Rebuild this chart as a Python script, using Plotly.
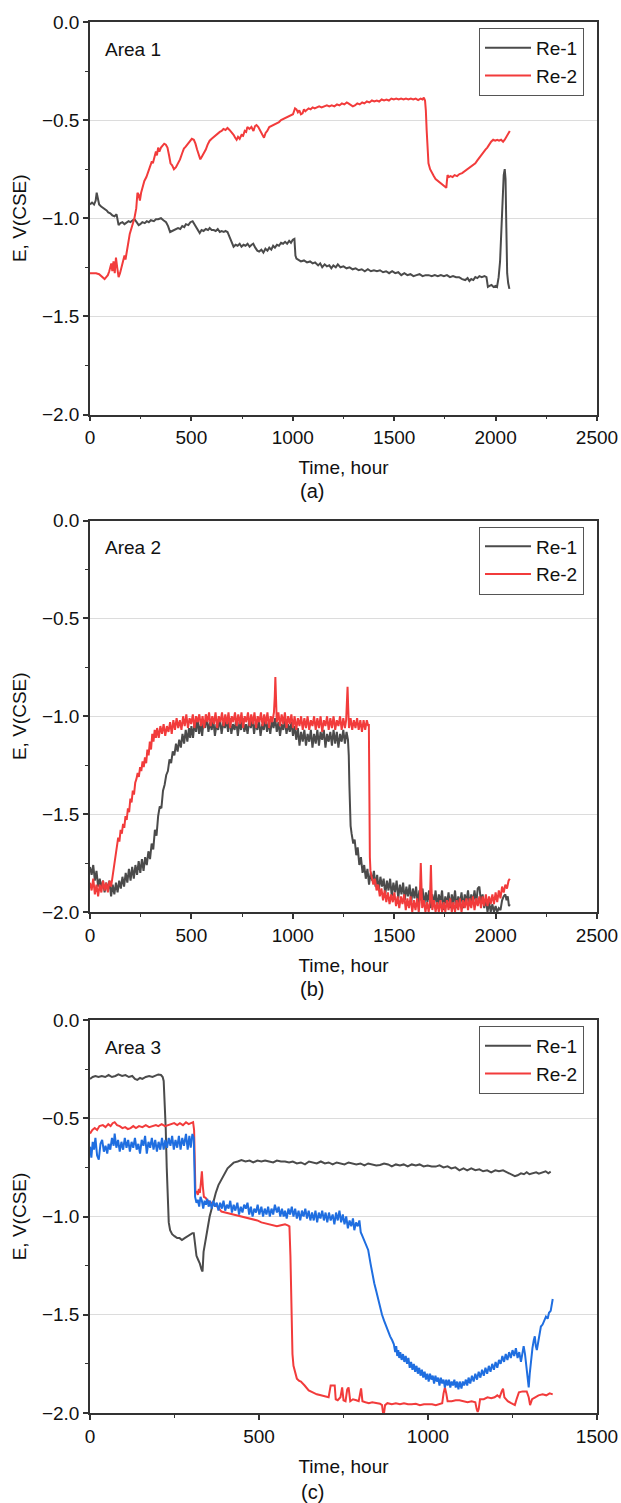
import plotly.graph_objects as go

# ---------------- data: (time [h], potential [V vs CSE]) ----------------
a_re1_pts = [(0,-0.93),(10,-0.92),(20,-0.93),(28,-0.91),(33,-0.87),(38,-0.90),(45,-0.93),(55,-0.94),(63,-0.945),(72,-0.955),(82,-0.96),(90,-0.97),(100,-0.975),(110,-0.985),(121,-0.99),(131,-0.98),(141,-1.035),(150,-1.025),(160,-1.02),(170,-1.03),(180,-1.02),(190,-1.015),(199,-1.02),(210,-1.01),(219,-1.005),(230,-1.02),(240,-1.035),(248,-1.03),(258,-1.02),(270,-1.025),(280,-1.015),(290,-1.02),(300,-1.01),(315,-1.015),(325,-1.005),(336,-1.005),(350,-1.0),(362,-1.01),(375,-1.02),(385,-1.04),(395,-1.07),(405,-1.065),(415,-1.06),(425,-1.055),(434,-1.05),(445,-1.055),(455,-1.04),(465,-1.045),(473,-1.03),(485,-1.035),(495,-1.02),(506,-1.015),(515,-1.03),(522,-1.045),(532,-1.06),(541,-1.075),(550,-1.06),(560,-1.065),(571,-1.055),(582,-1.06),(590,-1.05),(600,-1.06),(610,-1.06),(620,-1.065),(630,-1.055),(640,-1.07),(649,-1.065),(660,-1.07),(668,-1.065),(678,-1.07),(690,-1.10),(700,-1.13),(708,-1.145),(718,-1.135),(728,-1.14),(738,-1.13),(747,-1.145),(757,-1.135),(767,-1.14),(777,-1.13),(787,-1.145),(797,-1.135),(805,-1.13),(815,-1.15),(825,-1.165),(834,-1.17),(845,-1.16),(855,-1.175),(865,-1.155),(875,-1.165),(884,-1.15),(894,-1.16),(903,-1.14),(912,-1.15),(922,-1.135),(932,-1.14),(942,-1.125),(952,-1.13),(962,-1.12),(972,-1.13),(982,-1.115),(991,-1.125),(1000,-1.11),(1008,-1.105),(1013,-1.19),(1018,-1.205),(1030,-1.215),(1040,-1.22),(1055,-1.215),(1070,-1.225),(1085,-1.22),(1098,-1.23),(1110,-1.225),(1125,-1.24),(1135,-1.23),(1145,-1.25),(1157,-1.235),(1168,-1.245),(1180,-1.24),(1190,-1.255),(1200,-1.24),(1212,-1.25),(1222,-1.235),(1235,-1.25),(1250,-1.245),(1265,-1.255),(1280,-1.25),(1295,-1.26),(1310,-1.255),(1325,-1.265),(1340,-1.26),(1355,-1.27),(1370,-1.26),(1385,-1.27),(1400,-1.265),(1415,-1.27),(1430,-1.265),(1445,-1.275),(1460,-1.27),(1475,-1.28),(1490,-1.27),(1505,-1.28),(1520,-1.275),(1535,-1.29),(1550,-1.28),(1565,-1.29),(1580,-1.285),(1595,-1.295),(1610,-1.29),(1625,-1.285),(1640,-1.295),(1655,-1.29),(1670,-1.29),(1685,-1.295),(1700,-1.29),(1715,-1.295),(1730,-1.29),(1745,-1.295),(1760,-1.29),(1775,-1.3),(1790,-1.295),(1805,-1.30),(1820,-1.30),(1835,-1.31),(1850,-1.315),(1862,-1.305),(1871,-1.32),(1880,-1.31),(1890,-1.315),(1900,-1.30),(1910,-1.305),(1920,-1.295),(1932,-1.30),(1945,-1.295),(1955,-1.30),(1962,-1.35),(1970,-1.345),(1980,-1.34),(1990,-1.35),(2000,-1.345),(2007,-1.35),(2015,-1.30),(2022,-1.22),(2028,-1.05),(2034,-0.90),(2040,-0.78),(2045,-0.75),(2049,-0.80),(2053,-1.05),(2057,-1.28),(2062,-1.33),(2068,-1.36)]

a_re2_pts = [(0,-1.28),(15,-1.28),(30,-1.28),(45,-1.285),(55,-1.295),(65,-1.305),(72,-1.31),(80,-1.30),(88,-1.29),(95,-1.27),(100,-1.25),(105,-1.23),(110,-1.27),(116,-1.22),(122,-1.28),(128,-1.20),(134,-1.25),(141,-1.30),(148,-1.28),(155,-1.25),(162,-1.23),(170,-1.19),(175,-1.21),(180,-1.17),(188,-1.13),(196,-1.08),(205,-1.05),(212,-1.02),(219,-1.0),(228,-0.95),(234,-0.87),(240,-0.88),(246,-0.91),(252,-0.87),(260,-0.84),(268,-0.81),(278,-0.79),(288,-0.76),(298,-0.74),(305,-0.71),(310,-0.72),(318,-0.69),(325,-0.66),(330,-0.68),(336,-0.64),(342,-0.66),(350,-0.64),(358,-0.63),(366,-0.62),(374,-0.625),(382,-0.64),(390,-0.68),(397,-0.72),(405,-0.73),(414,-0.75),(424,-0.74),(434,-0.72),(444,-0.70),(454,-0.67),(463,-0.645),(472,-0.635),(482,-0.62),(492,-0.605),(502,-0.595),(512,-0.60),(520,-0.62),(528,-0.65),(536,-0.68),(544,-0.70),(552,-0.685),(560,-0.67),(571,-0.65),(580,-0.625),(590,-0.605),(600,-0.595),(610,-0.585),(620,-0.58),(630,-0.565),(640,-0.56),(649,-0.555),(658,-0.545),(668,-0.55),(678,-0.54),(688,-0.55),(698,-0.56),(708,-0.575),(716,-0.59),(723,-0.60),(730,-0.585),(738,-0.595),(747,-0.575),(755,-0.58),(763,-0.555),(770,-0.56),(776,-0.535),(786,-0.545),(796,-0.535),(806,-0.555),(814,-0.53),(821,-0.525),(830,-0.535),(838,-0.55),(846,-0.57),(852,-0.58),(858,-0.59),(866,-0.565),(874,-0.555),(884,-0.535),(894,-0.53),(904,-0.525),(914,-0.52),(922,-0.515),(932,-0.51),(942,-0.50),(952,-0.495),(962,-0.49),(972,-0.485),(982,-0.48),(992,-0.475),(1001,-0.47),(1006,-0.455),(1011,-0.44),(1018,-0.445),(1025,-0.46),(1032,-0.45),(1040,-0.47),(1048,-0.465),(1055,-0.445),(1062,-0.455),(1069,-0.45),(1078,-0.44),(1088,-0.445),(1098,-0.435),(1108,-0.44),(1118,-0.435),(1130,-0.43),(1142,-0.435),(1155,-0.43),(1168,-0.425),(1180,-0.43),(1192,-0.425),(1205,-0.43),(1218,-0.42),(1230,-0.425),(1242,-0.415),(1254,-0.42),(1266,-0.41),(1274,-0.415),(1284,-0.42),(1296,-0.43),(1306,-0.425),(1318,-0.415),(1330,-0.42),(1342,-0.41),(1353,-0.415),(1365,-0.405),(1378,-0.41),(1390,-0.40),(1402,-0.405),(1414,-0.40),(1426,-0.405),(1438,-0.395),(1450,-0.40),(1462,-0.395),(1474,-0.40),(1486,-0.39),(1498,-0.395),(1510,-0.39),(1522,-0.395),(1534,-0.39),(1546,-0.395),(1558,-0.39),(1570,-0.395),(1582,-0.39),(1594,-0.395),(1606,-0.39),(1618,-0.398),(1630,-0.39),(1640,-0.395),(1646,-0.385),(1652,-0.40),(1656,-0.45),(1660,-0.55),(1665,-0.65),(1669,-0.72),(1677,-0.75),(1685,-0.77),(1695,-0.785),(1704,-0.80),(1715,-0.81),(1725,-0.815),(1734,-0.825),(1745,-0.835),(1757,-0.845),(1760,-0.81),(1763,-0.78),(1770,-0.79),(1778,-0.785),(1788,-0.79),(1798,-0.78),(1810,-0.785),(1822,-0.775),(1835,-0.77),(1848,-0.76),(1860,-0.755),(1871,-0.745),(1880,-0.74),(1890,-0.73),(1900,-0.72),(1910,-0.705),(1920,-0.69),(1929,-0.68),(1940,-0.665),(1950,-0.65),(1959,-0.64),(1968,-0.625),(1978,-0.61),(1988,-0.60),(1998,-0.605),(2008,-0.60),(2017,-0.605),(2027,-0.60),(2037,-0.61),(2045,-0.60),(2052,-0.585),(2058,-0.575),(2064,-0.565),(2070,-0.555)]

b_re1_pts = [(0,-1.77),(8,-1.81),(16,-1.76),(24,-1.84),(32,-1.79),(40,-1.87),(48,-1.83),(56,-1.88),(64,-1.84),(72,-1.90),(80,-1.85),(88,-1.89),(96,-1.84),(104,-1.92),(112,-1.86),(120,-1.91),(128,-1.85),(136,-1.90),(144,-1.84),(152,-1.88),(160,-1.82),(168,-1.87),(176,-1.80),(184,-1.85),(192,-1.78),(200,-1.84),(208,-1.77),(216,-1.83),(224,-1.76),(232,-1.81),(240,-1.74),(248,-1.80),(256,-1.73),(264,-1.79),(272,-1.72),(280,-1.76),(288,-1.69),(296,-1.73),(304,-1.65),(312,-1.68),(320,-1.58),(328,-1.61),(336,-1.51),(344,-1.46),(352,-1.47),(360,-1.38),(368,-1.35),(376,-1.30),(384,-1.28),(392,-1.22),(400,-1.24),(408,-1.18),(416,-1.20),(424,-1.14),(432,-1.18),(440,-1.12),(448,-1.16),(456,-1.09),(464,-1.14),(472,-1.07),(480,-1.13),(488,-1.06),(494,-1.11),(500,-1.05),(508,-1.11),(516,-1.03),(523,-1.08),(530,-1.01),(538,-1.09),(546,-1.04),(553,-1.10),(560,-1.02),(568,-1.06),(575,-1.00),(584,-1.08),(592,-1.03),(600,-1.07),(608,-1.02),(616,-1.10),(624,-1.04),(632,-1.07),(640,-1.01),(649,-1.09),(657,-1.03),(665,-1.06),(673,-1.02),(681,-1.08),(689,-1.01),(697,-1.09),(705,-1.04),(713,-1.07),(721,-1.02),(729,-1.10),(737,-1.03),(745,-1.07),(753,-1.01),(761,-1.08),(769,-1.04),(777,-1.09),(785,-1.02),(793,-1.06),(801,-1.01),(809,-1.09),(817,-1.03),(825,-1.07),(833,-1.02),(841,-1.10),(849,-1.04),(857,-1.07),(865,-1.01),(873,-1.08),(881,-1.03),(889,-1.09),(897,-1.02),(905,-1.06),(913,-1.01),(921,-1.08),(929,-1.03),(937,-1.10),(945,-1.04),(953,-1.07),(961,-1.02),(969,-1.09),(977,-1.04),(985,-1.08),(993,-1.03),(1001,-1.10),(1009,-1.05),(1017,-1.12),(1025,-1.06),(1033,-1.15),(1041,-1.08),(1049,-1.13),(1057,-1.07),(1065,-1.15),(1073,-1.09),(1081,-1.13),(1089,-1.07),(1097,-1.16),(1105,-1.09),(1113,-1.14),(1121,-1.07),(1129,-1.15),(1137,-1.08),(1145,-1.12),(1153,-1.07),(1161,-1.16),(1169,-1.09),(1177,-1.13),(1185,-1.08),(1193,-1.15),(1201,-1.07),(1209,-1.14),(1217,-1.08),(1225,-1.16),(1233,-1.09),(1241,-1.13),(1249,-1.07),(1257,-1.14),(1265,-1.08),(1272,-1.12),(1276,-1.20),(1279,-1.35),(1282,-1.50),(1285,-1.56),(1290,-1.60),(1298,-1.65),(1305,-1.63),(1313,-1.71),(1320,-1.67),(1328,-1.76),(1336,-1.72),(1344,-1.80),(1352,-1.76),(1360,-1.83),(1368,-1.78),(1376,-1.86),(1384,-1.80),(1392,-1.84),(1400,-1.79),(1408,-1.87),(1416,-1.81),(1424,-1.89),(1432,-1.82),(1440,-1.87),(1448,-1.83),(1456,-1.91),(1464,-1.84),(1472,-1.89),(1480,-1.83),(1488,-1.92),(1496,-1.85),(1504,-1.90),(1512,-1.84),(1520,-1.93),(1528,-1.86),(1536,-1.91),(1544,-1.85),(1552,-1.94),(1560,-1.87),(1568,-1.92),(1576,-1.86),(1584,-1.95),(1592,-1.88),(1600,-1.93),(1608,-1.87),(1616,-1.96),(1624,-1.89),(1632,-1.94),(1640,-1.88),(1648,-1.97),(1656,-1.90),(1664,-1.95),(1672,-1.89),(1680,-1.98),(1688,-1.91),(1696,-1.96),(1704,-1.89),(1712,-1.98),(1720,-1.91),(1728,-1.95),(1736,-1.89),(1744,-1.99),(1752,-1.92),(1760,-1.96),(1768,-1.90),(1776,-1.98),(1784,-1.91),(1792,-1.96),(1800,-1.89),(1808,-1.98),(1816,-1.92),(1824,-1.96),(1832,-1.90),(1840,-1.98),(1848,-1.91),(1856,-1.95),(1864,-1.89),(1872,-1.97),(1880,-1.91),(1888,-1.95),(1896,-1.89),(1904,-1.96),(1912,-1.88),(1920,-1.87),(1928,-1.95),(1936,-1.91),(1944,-1.98),(1952,-1.93),(1960,-2.00),(1968,-1.95),(1976,-2.00),(1984,-1.96),(1992,-2.00),(2000,-1.97),(2008,-2.00),(2016,-1.98),(2024,-1.99),(2032,-1.94),(2040,-1.92),(2048,-1.91),(2054,-1.94),(2060,-1.92),(2066,-1.97),(2070,-1.96)]

b_re2_pts = [(0,-1.85),(8,-1.89),(16,-1.83),(24,-1.91),(32,-1.86),(40,-1.92),(48,-1.86),(56,-1.90),(64,-1.84),(72,-1.89),(80,-1.85),(88,-1.90),(96,-1.84),(104,-1.87),(111,-1.82),(116,-1.78),(121,-1.74),(127,-1.70),(133,-1.67),(139,-1.62),(145,-1.64),(151,-1.58),(157,-1.60),(163,-1.55),(169,-1.57),(175,-1.51),(181,-1.53),(187,-1.47),(193,-1.49),(199,-1.42),(205,-1.44),(211,-1.38),(217,-1.40),(223,-1.34),(229,-1.32),(235,-1.29),(241,-1.31),(247,-1.26),(253,-1.28),(259,-1.23),(265,-1.26),(271,-1.21),(277,-1.24),(283,-1.17),(289,-1.20),(295,-1.13),(301,-1.17),(307,-1.09),(313,-1.13),(319,-1.07),(325,-1.11),(331,-1.06),(339,-1.11),(347,-1.05),(355,-1.09),(363,-1.04),(371,-1.10),(379,-1.05),(387,-1.08),(395,-1.03),(403,-1.09),(411,-1.02),(419,-1.07),(427,-1.01),(435,-1.06),(443,-1.02),(451,-1.07),(459,-1.00),(467,-1.05),(475,-0.99),(483,-1.06),(491,-1.01),(499,-1.04),(507,-0.99),(515,-1.06),(523,-1.00),(531,-1.03),(539,-0.99),(547,-1.05),(555,-1.00),(563,-1.06),(571,-0.99),(579,-1.03),(587,-0.98),(595,-1.05),(603,-1.00),(611,-1.04),(619,-0.98),(627,-1.06),(635,-1.00),(643,-1.03),(651,-0.98),(659,-1.05),(667,-0.99),(675,-1.04),(683,-0.98),(691,-1.06),(699,-1.00),(707,-1.03),(715,-0.98),(723,-1.05),(731,-0.99),(739,-1.04),(747,-0.98),(755,-1.06),(763,-1.00),(771,-1.03),(779,-0.98),(787,-1.05),(795,-0.99),(803,-1.04),(811,-0.98),(819,-1.06),(827,-1.00),(835,-1.03),(843,-0.98),(851,-1.05),(859,-0.99),(867,-1.04),(875,-0.98),(883,-1.06),(891,-1.00),(899,-1.03),(907,-0.98),(911,-0.90),(914,-0.80),(917,-0.90),(921,-1.03),(929,-0.98),(937,-1.05),(945,-0.99),(953,-1.04),(961,-0.98),(969,-1.06),(977,-1.00),(985,-1.04),(993,-0.99),(1001,-1.06),(1009,-1.00),(1017,-1.07),(1025,-1.01),(1033,-1.05),(1041,-1.00),(1049,-1.07),(1057,-1.01),(1065,-1.06),(1073,-1.00),(1081,-1.07),(1089,-1.02),(1097,-1.05),(1105,-1.00),(1113,-1.07),(1121,-1.01),(1129,-1.06),(1137,-1.00),(1145,-1.08),(1153,-1.02),(1161,-1.05),(1169,-1.00),(1177,-1.07),(1185,-1.01),(1193,-1.06),(1201,-1.00),(1209,-1.07),(1217,-1.02),(1225,-1.05),(1233,-1.00),(1241,-1.07),(1249,-1.01),(1257,-1.06),(1263,-1.02),(1267,-0.95),(1270,-0.85),(1273,-0.95),(1277,-1.06),(1285,-1.01),(1293,-1.07),(1301,-1.02),(1309,-1.06),(1317,-1.01),(1325,-1.07),(1333,-1.02),(1341,-1.08),(1349,-1.02),(1357,-1.07),(1365,-1.02),(1372,-1.05),(1375,-1.04),(1377,-1.40),(1380,-1.72),(1383,-1.79),(1389,-1.82),(1397,-1.86),(1405,-1.83),(1413,-1.89),(1421,-1.86),(1429,-1.92),(1437,-1.88),(1445,-1.94),(1453,-1.89),(1461,-1.95),(1469,-1.90),(1477,-1.96),(1485,-1.91),(1493,-1.95),(1501,-1.90),(1509,-1.97),(1517,-1.92),(1525,-1.98),(1533,-1.92),(1541,-1.96),(1549,-1.91),(1557,-1.99),(1565,-1.93),(1573,-1.98),(1581,-1.92),(1589,-2.00),(1597,-1.94),(1605,-1.99),(1613,-1.93),(1621,-2.00),(1626,-1.95),(1628,-1.85),(1631,-1.75),(1634,-1.85),(1638,-1.98),(1646,-1.94),(1654,-2.00),(1662,-1.95),(1670,-2.00),(1676,-1.95),(1678,-1.88),(1681,-1.76),(1684,-1.88),(1688,-1.99),(1696,-1.94),(1704,-2.00),(1712,-1.95),(1720,-2.00),(1728,-1.94),(1736,-2.00),(1744,-1.95),(1752,-2.00),(1760,-1.94),(1768,-1.99),(1776,-1.93),(1784,-2.00),(1792,-1.95),(1800,-2.00),(1808,-1.94),(1816,-1.99),(1824,-1.93),(1832,-2.00),(1840,-1.94),(1848,-1.98),(1856,-1.93),(1864,-1.99),(1872,-1.93),(1880,-1.98),(1888,-1.92),(1896,-1.99),(1904,-1.93),(1912,-1.97),(1920,-1.92),(1928,-1.98),(1936,-1.92),(1944,-1.97),(1952,-1.91),(1960,-1.97),(1968,-1.92),(1976,-1.96),(1984,-1.91),(1992,-1.96),(2000,-1.90),(2008,-1.95),(2016,-1.89),(2024,-1.93),(2032,-1.87),(2040,-1.90),(2048,-1.86),(2056,-1.88),(2064,-1.84),(2070,-1.83)]

c_re1_pts = [(0,-0.30),(8,-0.29),(16,-0.285),(25,-0.29),(35,-0.285),(45,-0.29),(55,-0.28),(65,-0.29),(75,-0.285),(84,-0.277),(95,-0.285),(105,-0.28),(115,-0.29),(125,-0.285),(133,-0.30),(140,-0.305),(148,-0.295),(155,-0.30),(165,-0.29),(175,-0.285),(185,-0.29),(195,-0.28),(202,-0.277),(210,-0.28),(215,-0.29),(218,-0.31),(221,-0.40),(224,-0.55),(227,-0.75),(230,-0.95),(233,-1.03),(237,-1.07),(243,-1.09),(250,-1.10),(258,-1.11),(265,-1.11),(272,-1.12),(280,-1.11),(288,-1.10),(296,-1.09),(303,-1.085),(307,-1.085),(311,-1.13),(315,-1.20),(320,-1.22),(325,-1.24),(330,-1.27),(333,-1.28),(336,-1.18),(340,-1.13),(346,-1.08),(354,-1.00),(362,-0.94),(372,-0.88),(380,-0.84),(389,-0.81),(398,-0.78),(407,-0.755),(416,-0.74),(425,-0.726),(437,-0.72),(448,-0.713),(460,-0.72),(472,-0.715),(483,-0.725),(495,-0.715),(507,-0.72),(518,-0.715),(530,-0.72),(542,-0.725),(553,-0.715),(565,-0.72),(577,-0.72),(589,-0.725),(600,-0.72),(612,-0.73),(624,-0.725),(636,-0.735),(648,-0.72),(660,-0.725),(671,-0.73),(683,-0.72),(695,-0.73),(706,-0.725),(718,-0.735),(730,-0.725),(741,-0.73),(753,-0.735),(765,-0.725),(777,-0.73),(788,-0.735),(800,-0.73),(812,-0.74),(823,-0.73),(835,-0.735),(847,-0.74),(858,-0.738),(870,-0.73),(882,-0.735),(893,-0.745),(905,-0.735),(917,-0.74),(928,-0.735),(940,-0.745),(952,-0.735),(964,-0.74),(975,-0.735),(987,-0.745),(999,-0.74),(1011,-0.745),(1023,-0.746),(1034,-0.74),(1046,-0.75),(1058,-0.745),(1069,-0.755),(1081,-0.75),(1093,-0.765),(1105,-0.755),(1116,-0.765),(1128,-0.755),(1140,-0.764),(1152,-0.76),(1163,-0.77),(1175,-0.765),(1187,-0.775),(1199,-0.765),(1210,-0.77),(1222,-0.765),(1234,-0.775),(1245,-0.785),(1257,-0.795),(1265,-0.79),(1275,-0.78),(1284,-0.785),(1292,-0.775),(1300,-0.785),(1310,-0.78),(1320,-0.775),(1328,-0.782),(1338,-0.775),(1348,-0.77),(1356,-0.78),(1363,-0.772)]

c_re2_pts = [(0,-0.578),(7,-0.56),(14,-0.55),(21,-0.56),(28,-0.54),(38,-0.535),(46,-0.545),(54,-0.53),(61,-0.54),(67,-0.525),(73,-0.52),(80,-0.535),(88,-0.54),(96,-0.55),(104,-0.545),(112,-0.555),(120,-0.55),(128,-0.54),(136,-0.55),(145,-0.54),(155,-0.545),(165,-0.535),(175,-0.545),(185,-0.54),(195,-0.535),(202,-0.54),(212,-0.53),(222,-0.54),(232,-0.535),(240,-0.53),(249,-0.525),(258,-0.535),(266,-0.525),(275,-0.535),(284,-0.52),(292,-0.53),(300,-0.525),(305,-0.52),(308,-0.56),(310,-0.75),(312,-0.88),(315,-0.87),(319,-0.89),(322,-0.86),(325,-0.88),(328,-0.83),(331,-0.77),(334,-0.85),(337,-0.90),(342,-0.905),(348,-0.92),(355,-0.925),(366,-0.94),(377,-0.95),(389,-0.975),(400,-0.98),(412,-0.985),(424,-0.99),(436,-0.997),(448,-1.0),(460,-1.005),(472,-1.01),(483,-1.017),(495,-1.02),(507,-1.03),(518,-1.035),(530,-1.04),(541,-1.045),(553,-1.05),(565,-1.045),(577,-1.04),(585,-1.045),(590,-1.05),(593,-1.2),(595,-1.45),(597,-1.60),(599,-1.70),(602,-1.76),(607,-1.80),(612,-1.825),(618,-1.835),(624,-1.84),(635,-1.86),(647,-1.885),(659,-1.895),(671,-1.905),(683,-1.91),(695,-1.915),(706,-1.92),(710,-1.88),(712,-1.86),(718,-1.86),(724,-1.86),(727,-1.93),(733,-1.935),(741,-1.92),(746,-1.87),(750,-1.935),(756,-1.94),(761,-1.88),(765,-1.87),(770,-1.94),(778,-1.93),(788,-1.935),(795,-1.94),(802,-1.875),(806,-1.94),(815,-1.945),(825,-1.95),(835,-1.945),(846,-1.95),(858,-1.953),(864,-1.96),(867,-2.0),(870,-2.0),(873,-1.96),(880,-1.95),(893,-1.955),(905,-1.95),(917,-1.955),(929,-1.95),(941,-1.955),(952,-1.955),(964,-1.953),(976,-1.96),(988,-1.955),(1000,-1.955),(1012,-1.955),(1023,-1.96),(1035,-1.955),(1042,-1.95),(1046,-1.90),(1050,-1.87),(1054,-1.90),(1058,-1.94),(1070,-1.94),(1082,-1.935),(1093,-1.935),(1105,-1.94),(1117,-1.945),(1129,-1.94),(1140,-1.945),(1144,-1.98),(1147,-1.995),(1150,-1.98),(1154,-1.93),(1165,-1.93),(1176,-1.92),(1187,-1.925),(1197,-1.92),(1205,-1.91),(1212,-1.92),(1218,-1.89),(1222,-1.876),(1226,-1.92),(1236,-1.94),(1246,-1.95),(1257,-1.96),(1262,-1.93),(1269,-1.895),(1280,-1.89),(1292,-1.89),(1298,-1.92),(1302,-1.96),(1308,-1.93),(1316,-1.92),(1327,-1.91),(1339,-1.905),(1350,-1.91),(1360,-1.90),(1369,-1.905)]

c_re3_pts = [(0,-0.645),(4,-0.70),(8,-0.62),(12,-0.66),(16,-0.60),(21,-0.69),(26,-0.71),(31,-0.63),(36,-0.61),(41,-0.67),(46,-0.64),(51,-0.68),(55,-0.63),(60,-0.66),(65,-0.60),(70,-0.64),(73,-0.578),(78,-0.65),(83,-0.61),(88,-0.67),(93,-0.62),(98,-0.66),(103,-0.60),(108,-0.65),(113,-0.61),(118,-0.67),(123,-0.62),(128,-0.65),(133,-0.60),(138,-0.66),(143,-0.63),(148,-0.68),(153,-0.61),(158,-0.64),(163,-0.59),(168,-0.68),(173,-0.62),(178,-0.65),(183,-0.60),(188,-0.66),(193,-0.61),(198,-0.67),(203,-0.62),(208,-0.66),(213,-0.60),(218,-0.66),(223,-0.61),(228,-0.65),(233,-0.60),(238,-0.64),(243,-0.59),(248,-0.66),(253,-0.61),(258,-0.65),(263,-0.59),(268,-0.66),(273,-0.60),(278,-0.64),(284,-0.58),(289,-0.66),(294,-0.59),(298,-0.65),(303,-0.58),(307,-0.6),(309,-0.75),(311,-0.90),(315,-0.93),(319,-0.915),(323,-0.95),(327,-0.90),(331,-0.92),(335,-0.96),(339,-0.92),(343,-0.94),(347,-0.91),(351,-0.95),(355,-0.92),(360,-0.96),(365,-0.92),(370,-0.95),(375,-0.93),(380,-0.97),(385,-0.93),(390,-0.96),(395,-0.92),(400,-0.97),(405,-0.94),(410,-0.96),(415,-0.92),(420,-0.98),(425,-0.94),(430,-0.97),(436,-0.93),(441,-0.99),(446,-0.95),(451,-0.98),(456,-0.94),(461,-0.96),(466,-0.93),(471,-0.99),(476,-0.95),(481,-1.0),(486,-0.96),(491,-0.98),(496,-0.94),(501,-0.99),(507,-0.95),(512,-1.0),(517,-0.96),(522,-0.99),(527,-0.95),(532,-1.0),(537,-0.96),(542,-0.99),(547,-0.94),(553,-0.98),(558,-0.95),(563,-1.0),(568,-0.96),(573,-1.0),(577,-0.97),(582,-1.01),(587,-0.96),(592,-0.99),(597,-0.95),(602,-1.0),(607,-0.96),(612,-1.01),(617,-0.97),(622,-1.02),(627,-0.97),(632,-1.0),(637,-0.96),(642,-1.01),(647,-0.97),(652,-1.02),(657,-0.98),(662,-1.02),(667,-0.97),(672,-1.03),(677,-0.98),(682,-1.01),(687,-0.97),(692,-1.02),(697,-0.98),(702,-1.03),(707,-0.98),(712,-1.02),(718,-0.99),(723,-1.04),(728,-0.98),(733,-1.02),(738,-0.97),(743,-1.03),(748,-0.99),(753,-1.04),(758,-1.0),(763,-1.06),(768,-1.02),(773,-1.05),(778,-1.01),(782,-1.07),(787,-1.03),(792,-1.05),(797,-1.02),(801,-1.08),(806,-1.10),(811,-1.12),(817,-1.14),(823,-1.17),(830,-1.24),(836,-1.30),(841,-1.34),(847,-1.38),(852,-1.42),(858,-1.46),(864,-1.50),(870,-1.53),(876,-1.56),(882,-1.59),(888,-1.61),(894,-1.63),(899,-1.65),(903,-1.69),(906,-1.66),(909,-1.71),(912,-1.68),(915,-1.72),(918,-1.69),(922,-1.73),(926,-1.70),(930,-1.74),(934,-1.71),(938,-1.75),(942,-1.72),(946,-1.77),(950,-1.74),(954,-1.78),(958,-1.75),(962,-1.79),(966,-1.76),(970,-1.80),(974,-1.77),(978,-1.81),(982,-1.78),(986,-1.82),(990,-1.79),(994,-1.83),(998,-1.80),(1002,-1.84),(1006,-1.80),(1010,-1.83),(1014,-1.81),(1018,-1.85),(1022,-1.81),(1026,-1.84),(1030,-1.82),(1034,-1.86),(1038,-1.82),(1042,-1.85),(1046,-1.83),(1050,-1.87),(1054,-1.83),(1058,-1.86),(1062,-1.83),(1066,-1.87),(1070,-1.84),(1074,-1.86),(1078,-1.83),(1082,-1.87),(1086,-1.84),(1090,-1.88),(1094,-1.84),(1099,-1.875),(1103,-1.84),(1107,-1.86),(1112,-1.83),(1116,-1.86),(1120,-1.82),(1125,-1.85),(1130,-1.81),(1135,-1.84),(1140,-1.80),(1145,-1.83),(1150,-1.79),(1155,-1.82),(1160,-1.78),(1165,-1.81),(1170,-1.77),(1175,-1.80),(1180,-1.76),(1185,-1.79),(1190,-1.75),(1195,-1.78),(1200,-1.74),(1205,-1.77),(1210,-1.73),(1215,-1.75),(1220,-1.71),(1225,-1.74),(1230,-1.70),(1235,-1.73),(1240,-1.69),(1245,-1.72),(1250,-1.68),(1255,-1.71),(1260,-1.67),(1265,-1.72),(1270,-1.69),(1275,-1.74),(1279,-1.70),(1283,-1.66),(1287,-1.70),(1291,-1.76),(1295,-1.84),(1298,-1.87),(1301,-1.80),(1305,-1.72),(1309,-1.67),(1313,-1.63),(1316,-1.61),(1319,-1.66),(1322,-1.68),(1326,-1.64),(1330,-1.59),(1334,-1.56),(1339,-1.55),(1344,-1.53),(1349,-1.51),(1354,-1.52),(1358,-1.49),(1363,-1.48),(1366,-1.44),(1369,-1.42)]

area_labels = ["Area 1", "Area 2", "Area 3"]
panel_captions = ["(a)", "(b)", "(c)"]
x_ranges = [[0, 2500], [0, 2500], [0, 1500]]
y_range = [-2.0, 0.0]
x_title = "Time, hour"
y_title = "E, V(CSE)"
series_names = ["Re-1", "Re-2"]

# ---------------- styling ----------------
W, H = 621, 1503
L_PX, R_PX = 90, 597
panels_px = [(22, 414.5), (520.5, 912), (1020, 1413)]
caption_px = [491, 989, 1492]
GRAY, RED, BLUE = "#4b4b4b", "#f23b3b", "#1f6ee0"
AX = "#333333"
FONT = "Arial, Liberation Sans, sans-serif"
FS = 19


def unzip(pts):
    return [p[0] for p in pts], [p[1] for p in pts]


def yfrac(px):
    return 1 - px / H


fig = go.Figure()
panel_series = [
    [(a_re1_pts, GRAY, series_names[0], True), (a_re2_pts, RED, series_names[1], True)],
    [(b_re1_pts, GRAY, series_names[0], True), (b_re2_pts, RED, series_names[1], True)],
    [(c_re1_pts, GRAY, series_names[0], True), (c_re2_pts, RED, series_names[1], True),
     (c_re3_pts, BLUE, "Re-3", False)],
]

layout = dict(
    width=W, height=H,
    margin=dict(l=L_PX, r=W - R_PX, t=0, b=0, pad=0, autoexpand=False),
    paper_bgcolor="white", plot_bgcolor="white",
    font=dict(family=FONT, size=FS, color="#111111"),
    annotations=[],
)

for i, series in enumerate(panel_series):
    sfx = "" if i == 0 else str(i + 1)
    leg = "legend" if i == 0 else "legend" + str(i + 1)
    for pts, col, name, show in series:
        xs, ys = unzip(pts)
        fig.add_trace(go.Scatter(
            x=xs, y=ys, mode="lines", name=name,
            line=dict(color=col, width=2),
            xaxis="x" + sfx, yaxis="y" + sfx,
            legend=leg, showlegend=show,
        ))
    top, bot = panels_px[i]
    layout["xaxis" + sfx] = dict(
        domain=[0, 1], anchor="y" + sfx, range=x_ranges[i],
        tick0=0, dtick=500, automargin=False,
        showline=True, linecolor=AX, linewidth=1.5, mirror=True,
        ticks="outside", ticklen=5, tickwidth=1.5, tickcolor=AX,
        minor=dict(ticks="outside", ticklen=3, tickwidth=1.2, dtick=250,
                   tickcolor=AX, showgrid=False),
        showgrid=False, zeroline=False,
        tickfont=dict(size=FS),
        title=dict(text=x_title, font=dict(size=FS), standoff=14),
    )
    layout["yaxis" + sfx] = dict(
        domain=[yfrac(bot), yfrac(top)], anchor="x" + sfx, range=y_range,
        tick0=0, dtick=0.5, tickformat=".1f", automargin=False,
        showline=True, linecolor=AX, linewidth=1.5, mirror=True,
        ticks="outside", ticklen=5, tickwidth=1.5, tickcolor=AX,
        minor=dict(ticks="outside", ticklen=3, tickwidth=1.2, dtick=0.25,
                   tickcolor=AX, showgrid=False),
        showgrid=True, gridcolor="#dcdcdc", gridwidth=1.2, zeroline=False,
        tickfont=dict(size=FS),
        title=dict(text=y_title, font=dict(size=FS), standoff=10),
    )
    layout[leg] = dict(
        x=(584 - L_PX) / (R_PX - L_PX), y=yfrac(top + 6),
        xanchor="right", yanchor="top",
        bgcolor="white", bordercolor="#555555", borderwidth=1,
        font=dict(size=FS, family=FONT), itemwidth=46,
        tracegroupgap=0,
    )
    layout["annotations"].append(dict(
        text=area_labels[i], xref="x" + sfx + " domain", yref="y" + sfx + " domain",
        x=0.026, y=1 - 27 / (bot - top), xanchor="left", yanchor="middle",
        showarrow=False, font=dict(size=FS),
    ))
    layout["annotations"].append(dict(
        text=panel_captions[i], xref="paper", yref="paper",
        x=(312 - L_PX) / (R_PX - L_PX), y=yfrac(caption_px[i]),
        xanchor="center", yanchor="middle", showarrow=False,
        font=dict(size=20),
    ))

fig.update_layout(**layout)
fig.write_html("out.html", config={"displayModeBar": False},
               post_script="document.body.style.margin='0';document.body.style.overflow='hidden';")
